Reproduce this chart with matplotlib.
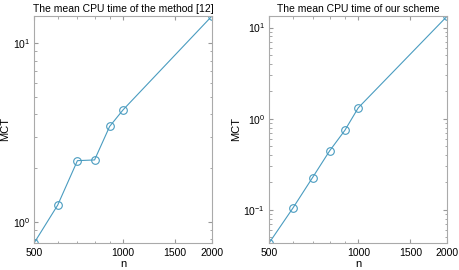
import numpy as np
import matplotlib.pyplot as plt
from matplotlib.ticker import FixedLocator, FixedFormatter, LogLocator, NullFormatter

n = [500, 600, 700, 800, 900, 1000, 2000]
mct_ref = [0.764, 1.24, 2.2, 2.22, 3.42, 4.24, 14.2]
mct_ours = [0.0437, 0.104, 0.226, 0.445, 0.744, 1.32, 13.4]
titles = ['The mean CPU time of the method [12]', 'The mean CPU time of our scheme']
xticks = [500, 1000, 1500, 2000]

plt.rcParams['font.family'] = ['Liberation Sans', 'DejaVu Sans']
line_color = '#4a9cc0'

fig = plt.figure(figsize=(4.6, 2.7), dpi=100)
boxes = [[34.3 / 460, 1 - 242.7 / 270, 177.7 / 460, 226.7 / 270],
         [269.3 / 460, 1 - 242.7 / 270, 178 / 460, 226.7 / 270]]

for box, y, title in zip(boxes, [mct_ref, mct_ours], titles):
    ax = fig.add_axes(box)
    ax.loglog(n, y, '-o', color=line_color, lw=0.8, ms=5.5, mfc='none', mew=0.8)
    ax.set_xlim(min(n), max(n))
    ax.set_ylim(min(y), max(y))
    ax.xaxis.set_major_locator(FixedLocator(xticks))
    ax.xaxis.set_major_formatter(FixedFormatter([str(t) for t in xticks]))
    ax.xaxis.set_minor_locator(LogLocator(base=10, subs=np.arange(1, 10) * 0.1))
    ax.xaxis.set_minor_formatter(NullFormatter())
    ax.tick_params(which='both', direction='in', top=True, right=True,
                   color='#999999', labelsize=7.5)
    ax.tick_params(axis='x', pad=4)
    ax.tick_params(axis='y', pad=3)
    ax.tick_params(which='major', length=3)
    ax.tick_params(which='minor', length=1.8)
    for s in ax.spines.values():
        s.set_color('#aaaaaa')
        s.set_linewidth(0.8)
    ax.set_title(title, fontsize=7.5, pad=3)
    ax.set_xlabel('n', fontsize=8, labelpad=0.5)
    ax.set_ylabel('MCT', fontsize=8, labelpad=2)

fig.savefig('out.png', dpi=100)
